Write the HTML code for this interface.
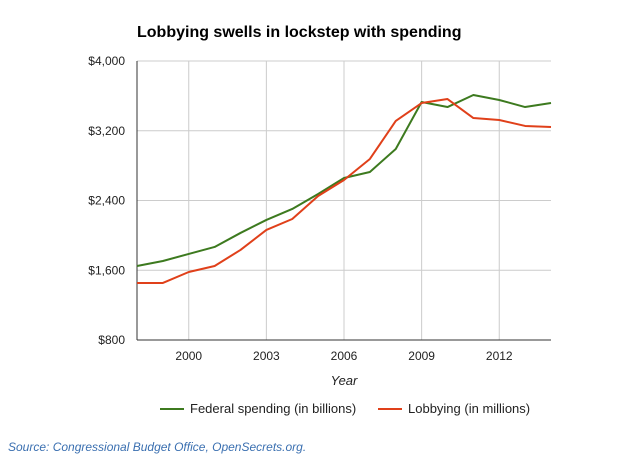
<!DOCTYPE html>
<html><head><meta charset="utf-8"><style>
body{margin:0;background:#fff;font-family:"Liberation Sans",Arial,sans-serif;}
svg text{font-family:"Liberation Sans",Arial,sans-serif;}
</style></head><body>
<svg id="chart" width="634" height="460">
<text x="137" y="37" font-size="16" font-weight="bold" fill="#000">Lobbying swells in lockstep with spending</text>
<g id="grid"></g><g id="axes"></g><g id="series"></g>
<text x="344" y="385" font-size="13" font-style="italic" text-anchor="middle" fill="#222">Year</text>
<g>
<g><line x1="160" y1="409" x2="184" y2="409" stroke="#3d7a1f" stroke-width="2"/><text x="190" y="413" font-size="13" fill="#222">Federal spending (in billions)</text></g>
<g><line x1="378" y1="409" x2="402" y2="409" stroke="#e0401a" stroke-width="2"/><text x="408" y="413" font-size="13" fill="#222">Lobbying (in millions)</text></g>
</g>
<text x="8" y="451" font-size="12" font-style="italic" fill="#3a6fb0">Source: Congressional Budget Office, OpenSecrets.org.</text>
</svg>
<script>
const years=[1998,1999,2000,2001,2002,2003,2004,2005,2006,2007,2008,2009,2010,2011,2012,2013,2014];
const federal=[1649,1706,1787,1867,2028,2177,2303,2475,2658,2727,2991,3530,3472,3610,3553,3472,3518];
const lobbying=[1454,1454,1580,1649,1833,2062,2188,2452,2635,2876,3312,3518,3564,3346,3323,3255,3243];
const xTicks=[2000,2003,2006,2009,2012];
const yTicks=[800,1600,2400,3200,4000];
const yLabels=["$800","$1,600","$2,400","$3,200","$4,000"];
const L=137,R=551,T=61,B=340;
const xs=v=>L+(v-1998)/(2014-1998)*(R-L);
const ys=v=>B-(v-800)/(4000-800)*(B-T);
const NS="http://www.w3.org/2000/svg";
function mk(tag,attrs,parent){const e=document.createElementNS(NS,tag);for(const k in attrs)e.setAttribute(k,attrs[k]);parent.appendChild(e);return e;}
const grid=document.getElementById('grid'),axes=document.getElementById('axes'),ser=document.getElementById('series');
xTicks.forEach(t=>{const l=mk('line',{x1:xs(t),x2:xs(t),y1:T,y2:B,stroke:'#ccc'},grid);


const tx=mk('text',{x:xs(t),y:B+20,'font-size':12,'text-anchor':'middle',fill:'#222'},axes);tx.textContent=t;

});
yTicks.forEach((t,i)=>{const l=mk('line',{x1:L,x2:R,y1:ys(t),y2:ys(t),stroke:'#ccc'},grid);


const tx=mk('text',{x:L-12,y:ys(t)+4,'font-size':12,'text-anchor':'end',fill:'#222'},axes);tx.textContent=yLabels[i];

});
const ax1=mk('line',{x1:L,x2:L,y1:T,y2:B,stroke:'#333'},axes);


const ax2=mk('line',{x1:L,x2:R,y1:B,y2:B,stroke:'#333'},axes);


function line(data,color,name){const p=mk('polyline',{points:data.map((v,i)=>xs(years[i])+','+ys(v)).join(' '),fill:'none',stroke:color,'stroke-width':2,'stroke-linejoin':'round'},ser);

}
line(federal,'#3d7a1f','federal-spending-line');
line(lobbying,'#e0401a','lobbying-line');
</script>
</body></html>
